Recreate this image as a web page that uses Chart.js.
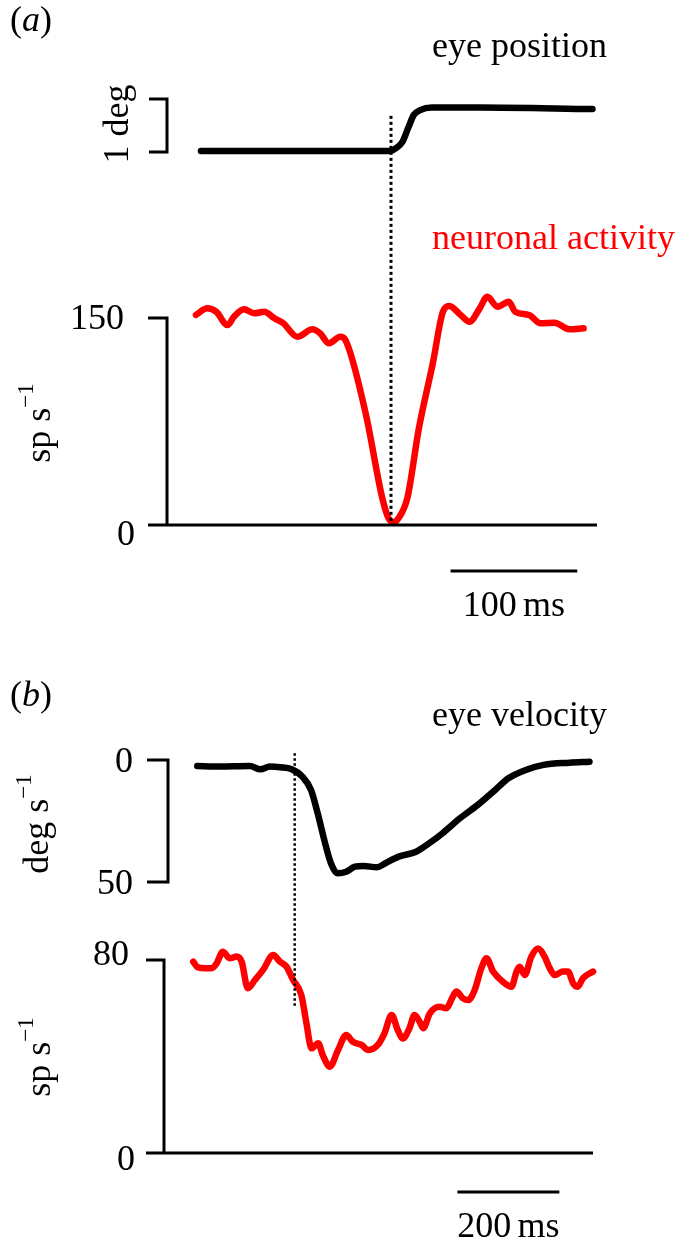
<!DOCTYPE html>
<html>
<head>
<meta charset="utf-8">
<style>
  html, body { margin: 0; padding: 0; background: #fff; }
  #fig { display: block; }
</style>
</head>
<body>
<canvas id="fig" width="687" height="1248"></canvas>
<script src="https://cdn.jsdelivr.net/npm/chart.js@4/dist/chart.umd.min.js"></script>
<script>
// (a) time in ms from saccade onset
const timeEyeA = [-150, -25, -1, 4, 9, 14, 18, 23, 32, 70, 159];
const eyePosA = [0.02, 0.02, 0.02, 0.075, 0.19, 0.48, 0.70, 0.79, 0.84, 0.84, 0.81];

const timeActA = [-154, -145, -138, -129, -124, -116, -108, -100, -92, -85, -74, -62, -56, -49, -40,
  -36, -20, -7, -2, 2, 6, 13, 22, 33, 41, 46, 55, 62, 70, 76, 84, 93, 98, 109, 118, 129, 141, 152];
const activityA = [152.2, 157, 154.6, 144.9, 150.9, 156.3, 153.4, 154.6, 149.8, 146.2, 136.4, 141.8, 138.9, 131.7, 136.4,
  134.1, 80.9, 20, 5, 2, 5, 20, 70, 117.2, 154.6, 158.7, 152.2, 147.3, 157, 165.4, 158.2, 161.8, 154.6, 152.2, 146.2, 146.6, 141.8, 142.5];

// (b) time in ms from pursuit onset
const timeEyeB = [-191, -148, -88, -67, -49, -28, -6, 15, 32, 45, 58, 71, 84, 101, 118,
  135, 161, 178, 204, 238, 264, 290, 324, 359, 393, 419, 453, 488, 539, 578];
const eyeVelB = [2.5, 2.7, 2.5, 3.8, 2.7, 3.0, 3.8, 6.8, 12.3, 21.8, 32.8, 42.3, 46.4, 45.8, 43.7,
  43.4, 44.0, 42.3, 39.6, 37.6, 34.1, 30.0, 23.9, 18.4, 12.3, 7.5, 4.1, 2.0, 1.1, 0.7];

const timeActB = [-199, -190, -176, -163, -153, -141, -127, -114, -104, -92, -78, -62, -42, -29, -16,
  -3, 13, 23, 33, 46, 55, 69, 85, 101, 114, 131, 144, 163, 176, 190, 202, 212, 225, 235, 245,
  252, 265, 284, 297, 310, 317, 330, 340, 353, 366, 376, 389, 408, 425, 435, 441, 451, 464, 477, 490,
  500, 510, 526, 536, 546, 555, 565, 585];
const activityB = [79.3, 77.0, 76.6, 76.6, 78.6, 83.4, 80.7, 81.4, 79.3, 68.3, 71.7, 75.9, 82.1, 79.3, 77.2,
  71.7, 65.5, 53.8, 43.4, 45.5, 40.6, 35.8, 42.7, 48.9, 46.1, 44.8, 42.7, 44.8, 49.6, 57.2, 51.0, 47.5, 51.7, 57.2, 54.4,
  51.7, 57.9, 60.6, 60.0, 64.8, 66.9, 64.1, 63.4, 67.6, 76.6, 80.7, 75.2, 71.0, 68.9, 75.2, 77.2, 73.8, 81.4, 84.8, 81.4,
  76.6, 73.8, 75.2, 75.2, 70.3, 68.9, 72.4, 75.2];

// onset markers (dotted), extent in sp/s of the lower axis
const onsetA = [3, 297];
const onsetB = [61, 166];

// tick labels / scale bars
const ticksPosA = [0, 1];      // 1 deg bracket
const ticksActA = [0, 150];
const ticksVelB = [0, 50];
const ticksActB = [0, 80];
const barA = [47, 147];        // 100 ms
const barB = [319, 519];       // 200 ms

const W = 687, H = 1248;
const FONT = '"Liberation Serif", "Times New Roman", serif';
const FS = 36;   // main text size
const SUP = 23;  // superscript size

// min/max so that value v1 sits at pixel p1 and v2 at p2 on a full-canvas axis
function fit(v1, p1, v2, p2, size, isX) {
  const k = (p2 - p1) / (v2 - v1);
  const a = v1 - p1 / k, b = v1 + (size - p1) / k;
  return { min: Math.min(a, b), max: Math.max(a, b), reverse: isX ? k < 0 : k > 0 };
}

function axis(id, r) {
  return { type: 'linear', axis: id[0], display: false, min: r.min, max: r.max, reverse: r.reverse };
}

function pts(xs, ys) { return xs.map((x, i) => ({ x: x, y: ys[i] })); }

function trace(data, xId, yId, color, width) {
  return {
    data: data, xAxisID: xId, yAxisID: yId,
    borderColor: color, borderWidth: width, pointRadius: 0,
    cubicInterpolationMode: 'monotone', borderCapStyle: 'round', borderJoinStyle: 'round',
    fill: false, clip: false
  };
}

function dotted(yVals, xId, yId, width, dash) {
  return {
    data: [{ x: 0, y: yVals[0] }, { x: 0, y: yVals[1] }], xAxisID: xId, yAxisID: yId,
    borderColor: '#000', borderWidth: width, borderDash: dash, pointRadius: 0, fill: false, clip: false
  };
}

function text(c, s, x, y, align, color) {
  c.font = FS + 'px ' + FONT;
  c.fillStyle = color || '#000';
  c.textAlign = align || 'left';
  c.textBaseline = 'alphabetic';
  c.fillText(s, x, y);
}

// "100 ms" style label with a thin space
function barLabel(c, num, unit, cx, y) {
  c.font = FS + 'px ' + FONT;
  c.fillStyle = '#000';
  c.textBaseline = 'alphabetic';
  c.textAlign = 'left';
  const w1 = c.measureText(num).width, w2 = c.measureText(unit).width, gap = FS * 0.17;
  const x0 = cx - (w1 + gap + w2) / 2;
  c.fillText(num, x0, y);
  c.fillText(unit, x0 + w1 + gap, y);
}

function panelTag(c, letter, x, y) {
  c.font = FS + 'px ' + FONT;
  c.fillStyle = '#000';
  c.textAlign = 'left';
  c.textBaseline = 'alphabetic';
  c.fillText('(', x, y);
  let w = c.measureText('(').width;
  c.font = 'italic ' + FS + 'px ' + FONT;
  c.fillText(letter, x + w, y);
  w += c.measureText(letter).width;
  c.font = FS + 'px ' + FONT;
  c.fillText(')', x + w, y);
}

function unitLabel(c, main, sup, cx, cy) {
  c.save();
  c.translate(cx, cy);
  c.rotate(-Math.PI / 2);
  c.fillStyle = '#000';
  c.textAlign = 'left';
  c.textBaseline = 'alphabetic';
  c.font = FS + 'px ' + FONT;
  const w1 = c.measureText(main).width;
  c.font = SUP + 'px ' + FONT;
  const w2 = sup ? c.measureText(sup).width : 0;
  const x0 = -(w1 + w2) / 2;
  c.font = FS + 'px ' + FONT;
  c.fillText(main, x0, 11);
  if (sup) {
    c.font = SUP + 'px ' + FONT;
    c.fillText(sup, x0 + w1, -6);
  }
  c.restore();
}

function path(c, p) {
  c.beginPath();
  c.moveTo(p[0][0], p[0][1]);
  for (let i = 1; i < p.length; i++) c.lineTo(p[i][0], p[i][1]);
  c.stroke();
}

const decor = {
  id: 'decor',
  afterDatasetsDraw(chart) {
    const c = chart.ctx, s = chart.scales;
    c.save();
    c.strokeStyle = '#000';
    c.lineWidth = 3;
    c.lineJoin = 'miter';
    c.lineCap = 'butt';

    // (a) eye position bracket
    const p0 = s.yPosA.getPixelForValue(ticksPosA[0]), p1 = s.yPosA.getPixelForValue(ticksPosA[1]);
    path(c, [[149, p1], [167, p1], [167, p0], [149, p0]]);

    // (a) activity axis
    const a0 = s.yActA.getPixelForValue(ticksActA[0]), a1 = s.yActA.getPixelForValue(ticksActA[1]);
    path(c, [[148, a1], [167, a1], [167, a0]]);
    path(c, [[148, a0], [597, a0]]);

    // (a) 100 ms bar
    const ya = 571;
    const xa0 = s.xa.getPixelForValue(barA[0]), xa1 = s.xa.getPixelForValue(barA[1]);
    path(c, [[xa0, ya], [xa1, ya]]);

    // (b) velocity bracket
    const v0 = s.yVelB.getPixelForValue(ticksVelB[0]), v1 = s.yVelB.getPixelForValue(ticksVelB[1]);
    path(c, [[147, v0], [168, v0], [168, v1], [147, v1]]);

    // (b) activity axis
    const b0 = s.yActB.getPixelForValue(ticksActB[0]), b1 = s.yActB.getPixelForValue(ticksActB[1]);
    path(c, [[146, b1], [164, b1], [164, b0]]);
    path(c, [[146, b0], [593, b0]]);

    // (b) 200 ms bar
    const yb = 1192;
    const xb0 = s.xb.getPixelForValue(barB[0]), xb1 = s.xb.getPixelForValue(barB[1]);
    path(c, [[xb0, yb], [xb1, yb]]);

    // texts
    panelTag(c, 'a', 10, 31);
    text(c, 'eye position', 432, 57);
    unitLabel(c, '1 deg', null, 117, 124);
    text(c, 'neuronal activity', 432, 249, 'left', '#ff0000');
    text(c, String(ticksActA[1]), 124, a1 + 11, 'right');
    text(c, String(ticksActA[0]), 135, a0 + 20, 'right');
    unitLabel(c, 'sp s', '\u22121', 39, 423);
    barLabel(c, '100', 'ms', (xa0 + xa1) / 2, ya + 45);

    panelTag(c, 'b', 10, 706);
    text(c, 'eye velocity', 432, 726);
    text(c, String(ticksVelB[0]), 133, v0 + 12, 'right');
    text(c, String(ticksVelB[1]), 133, v1 + 12, 'right');
    unitLabel(c, 'deg s', '\u22121', 37, 824);
    text(c, String(ticksActB[1]), 129, b1 + 5, 'right');
    text(c, String(ticksActB[0]), 135, b0 + 17, 'right');
    unitLabel(c, 'sp s', '\u22121', 39, 1057);
    barLabel(c, '200', 'ms', (xb0 + xb1) / 2, yb + 45);

    c.restore();
  }
};

const ctx = document.getElementById('fig').getContext('2d');
new Chart(ctx, {
  type: 'line',
  data: {
    datasets: [
      dotted(onsetA, 'xa', 'yActA', 3, [3, 3]),
      dotted(onsetB, 'xb', 'yActB', 2.5, [2.5, 2.5]),
      trace(pts(timeEyeA, eyePosA), 'xa', 'yPosA', '#000', 6.5),
      trace(pts(timeActA, activityA), 'xa', 'yActA', '#ff0000', 6.5),
      trace(pts(timeEyeB, eyeVelB), 'xb', 'yVelB', '#000', 6.5),
      trace(pts(timeActB, activityB), 'xb', 'yActB', '#ff0000', 6.5)
    ]
  },
  options: {
    responsive: false,
    animation: false,
    devicePixelRatio: 1,
    layout: { padding: 0 },
    plugins: { legend: { display: false }, tooltip: { enabled: false } },
    scales: {
      xa: axis('x', fit(0, 391, 100, 517.7, W, true)),
      xb: axis('x', fit(0, 294.7, 200, 396.7, W, true)),
      yPosA: axis('y', fit(0, 152, 1, 99, H, false)),
      yActA: axis('y', fit(0, 525, 150, 318, H, false)),
      yVelB: axis('y', fit(0, 760, 50, 882, H, false)),
      yActB: axis('y', fit(0, 1153, 80, 960, H, false))
    }
  },
  plugins: [decor]
});
</script>
</body>
</html>
